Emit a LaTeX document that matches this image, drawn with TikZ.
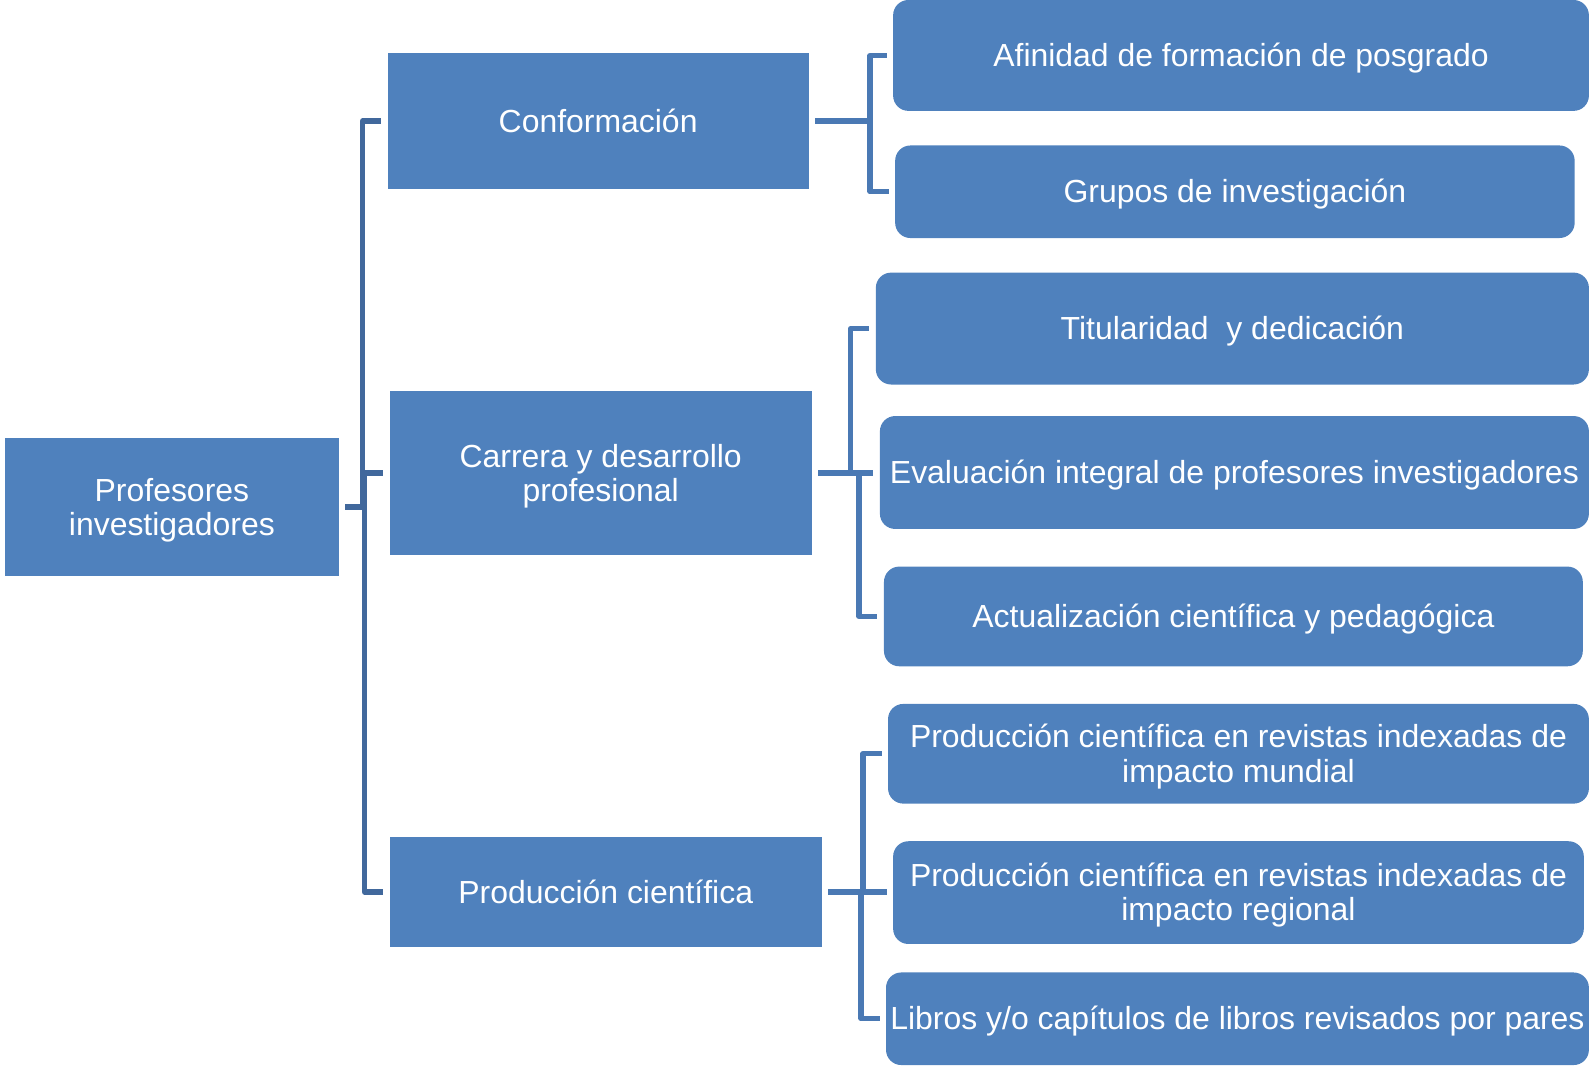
\documentclass[tikz,border=0pt]{standalone}
\usepackage{fontspec}
\setmainfont{Liberation Sans}
\definecolor{boxblue}{HTML}{4F81BD}
\definecolor{lconncol}{HTML}{41689C}
\definecolor{rconncol}{HTML}{4A79B4}
\newcommand\boxlbl[1]{\raisebox{-2.15pt}[\height][\depth]{\begin{tabular}{@{}c@{}}#1\end{tabular}}}
\tikzset{
  sqbox/.style={fill=boxblue, inner sep=0pt, text=white,
    font=\fontsize{15.7}{16.8}\selectfont},
  rbox/.style={sqbox, rounded corners=7.5pt},
  lconn/.style={draw=lconncol, line width=2.6pt, line join=round, shorten <=3pt, shorten >=3pt},
  rconn/.style={draw=rconncol, line width=2.6pt, line join=round, shorten <=3pt, shorten >=3pt}
}
\begin{document}
\begin{tikzpicture}[x=0.5pt,y=-0.5pt]
\useasboundingbox (0,0) rectangle (1568,1048);
% level 0 and 1
\node[sqbox, minimum width=164pt, minimum height=67.5pt] (root) at (169,498.5) {\boxlbl{Profesores\\investigadores}};
\node[sqbox, minimum width=207pt, minimum height=67pt] (conf) at (588,119) {\boxlbl{Conformación}};
\node[sqbox, minimum width=207.5pt, minimum height=81pt] (carr) at (590.5,465) {\boxlbl{Carrera y desarrollo\\profesional}};
\node[sqbox, minimum width=212.5pt, minimum height=54pt] (prod) at (595.5,877) {\boxlbl{Producción científica}};
% level 2
\node[rbox, minimum width=342pt, minimum height=54.5pt] (afin) at (1220,54.5) {\boxlbl{Afinidad de formación de posgrado}};
\node[rbox, minimum width=334pt, minimum height=45.5pt] (grup) at (1214,188.5) {\boxlbl{Grupos de investigación}};
\node[rbox, minimum width=350.5pt, minimum height=55pt] (titu) at (1211.5,323) {\boxlbl{Titularidad\ \ y dedicación}};
\node[rbox, minimum width=348.5pt, minimum height=55.5pt] (eval) at (1213.5,464.5) {\boxlbl{Evaluación integral de profesores investigadores}};
\node[rbox, minimum width=343.5pt, minimum height=49pt] (actu) at (1212.5,606) {\boxlbl{Actualización científica y pedagógica}};
\node[rbox, minimum width=344.5pt, minimum height=49pt] (mund) at (1217.5,741) {\boxlbl{Producción científica en revistas indexadas de\\impacto mundial}};
\node[rbox, minimum width=339.5pt, minimum height=50.5pt] (regi) at (1217.5,877.5) {\boxlbl{Producción científica en revistas indexadas de\\impacto regional}};
\node[rbox, minimum width=345.5pt, minimum height=45.5pt] (libr) at (1216.5,1001.5) {\boxlbl{Libros y/o capítulos de libros revisados por pares}};
% connectors level 0 -> 1
\draw[lconn] (root.east) -- ++(23,0) |- (conf.west);
\draw[lconn] (root.east) -- ++(25,0) |- (carr.west);
\draw[lconn] (root.east) -- ++(25,0) |- (prod.west);
% connectors level 1 -> 2
\draw[rconn] (conf.east) -- ++(60,0) |- (afin.west);
\draw[rconn] (conf.east) -- ++(60,0) |- (grup.west);
\draw[rconn] (carr.east) -- ++(38,0) |- (titu.west);
\draw[rconn] (carr.east) -- (carr.east -| eval.west);
\draw[rconn] (carr.east) -- ++(46,0) |- (actu.west);
\draw[rconn] (prod.east) -- ++(40,0) |- (mund.west);
\draw[rconn] (prod.east) -- (prod.east -| regi.west);
\draw[rconn] (prod.east) -- ++(38,0) |- (libr.west);
\end{tikzpicture}
\end{document}
